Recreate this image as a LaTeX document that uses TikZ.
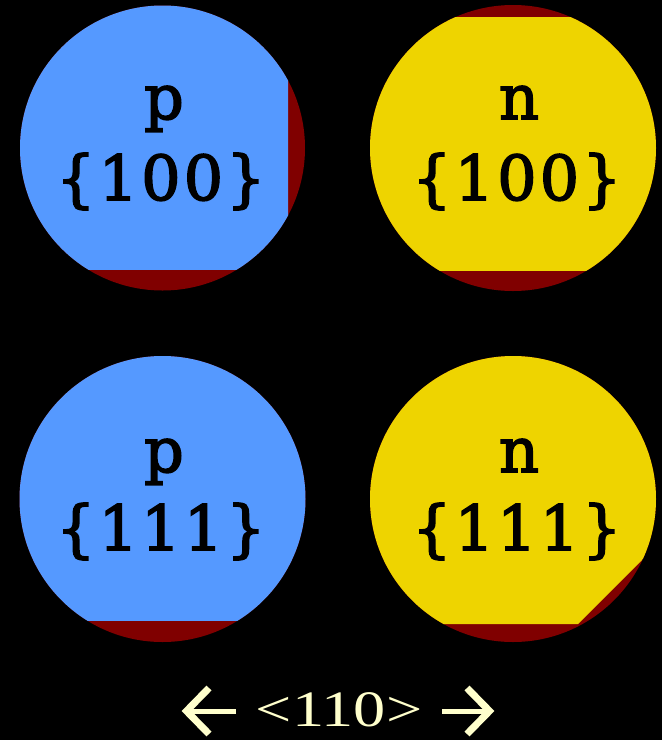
\documentclass[tikz,border=0pt]{standalone}
\usepackage{fontspec}
\newfontfamily\wafont[FakeBold=2.5,LetterSpace=5]{DejaVu Serif}
\newfontfamily\capfont{Liberation Serif}
\definecolor{wred}{RGB}{128,0,0}
\definecolor{pblue}{RGB}{85,153,255}
\definecolor{nyel}{RGB}{238,212,0}
\definecolor{capcol}{RGB}{255,255,204}
\begin{document}
\begin{tikzpicture}[x=1pt,y=-1pt,
  wlabel/.style={anchor=base,inner sep=0pt,font=\wafont\fontsize{62}{62}\selectfont,text=black},
  caplabel/.style={anchor=base,inner sep=0pt,xscale=1.26,font=\capfont\fontsize{51}{51}\selectfont,text=capcol},
  caparrow/.style={draw=capcol,line width=7pt,line cap=butt,line join=miter}]
\useasboundingbox (0,0) rectangle (662,740);
\fill[black] (0,0) rectangle (662,740);
% wafer 1: p {100}
\coordinate (c1) at (162.5,148);
\fill[wred] (c1) circle (142.5);
\begin{scope}
\clip (0,0) rectangle (288,269);
\fill[pblue] (c1) circle (142.5);
\end{scope}
\node[wlabel] (p1) at (164,119) {p};
\node[wlabel] (m1) at (161,200) {\{100\}};
% wafer 2: n {100}
\coordinate (c2) at (513,148);
\fill[wred] (c2) circle (143);
\begin{scope}
\clip (331,17.5) rectangle (662,270);
\fill[nyel] (c2) circle (143);
\end{scope}
\node[wlabel] (p2) at (519,119) {n};
\node[wlabel] (m2) at (517,200) {\{100\}};
% wafer 3: p {111}
\coordinate (c3) at (162.5,499);
\fill[wred] (c3) circle (143);
\begin{scope}
\clip (0,340) rectangle (331,620);
\fill[pblue] (c3) circle (143);
\end{scope}
\node[wlabel] (p3) at (164,472) {p};
\node[wlabel] (m3) at (161,550) {\{111\}};
% wafer 4: n {111}
\coordinate (c4) at (513,499);
\fill[wred] (c4) circle (143);
\begin{scope}
\clip (331,340) -- (862,340) -- (578,624) -- (331,624) -- cycle;
\fill[nyel] (c4) circle (143);
\end{scope}
\node[wlabel] (p4) at (519,472) {n};
\node[wlabel] (m4) at (517,550) {\{111\}};
% caption
\node[caplabel] (cap) at (339,726) {<110>};
\coordinate (la0) at (236,711);
\coordinate (la1) at (186,711);
\coordinate (ra0) at (442,711);
\coordinate (ra1) at (490,711);
\draw[caparrow,line width=5pt] (la0) -- (la1);
\draw[caparrow] ([shift={(23,-23)}]la1) -- ([shift={(0.5,0)}]la1) -- ([shift={(23,23)}]la1);
\draw[caparrow,line width=5pt] (ra0) -- (ra1);
\draw[caparrow] ([shift={(-23,-23)}]ra1) -- ([shift={(-0.5,0)}]ra1) -- ([shift={(-23,23)}]ra1);
\end{tikzpicture}
\end{document}
